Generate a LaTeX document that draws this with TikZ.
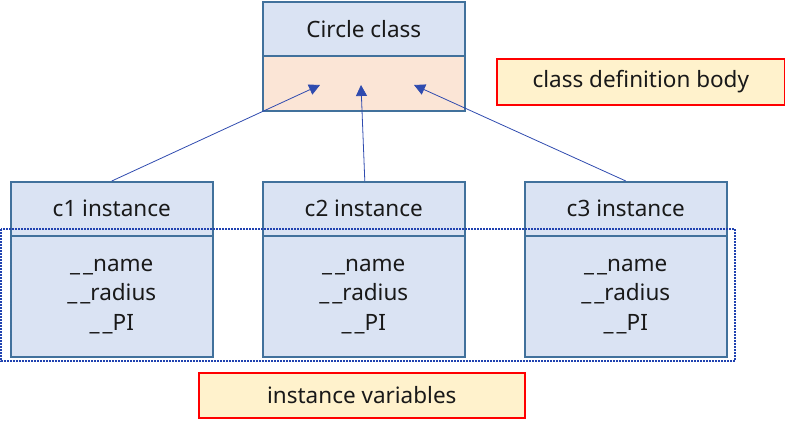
\documentclass[tikz,border=0pt]{standalone}
\usepackage{fontspec}
\setmainfont{Noto Sans}
\usetikzlibrary{arrows.meta}
\definecolor{boxfill}{HTML}{DAE3F3}
\definecolor{boxline}{HTML}{41719C}
\definecolor{peach}{HTML}{FBE5D6}
\definecolor{note}{HTML}{FFF2CC}
\definecolor{arrowc}{HTML}{2F4BAF}
\definecolor{dotc}{HTML}{2042B0}
\newcommand{\uu}{\_\kern3pt\_}
\begin{document}
\begin{tikzpicture}[x=1pt,y=-1pt,
  every node/.style={font=\fontsize{22.5}{29.5}\selectfont, text=black!90},
  hdr/.style={draw=boxline, line width=1.6pt, fill=boxfill, minimum width=202pt, minimum height=54pt, inner sep=0pt, anchor=north west},
  bodybox/.style={draw=boxline, line width=1.6pt, fill=boxfill, minimum width=202pt, minimum height=121pt, inner sep=0pt, anchor=north west, align=center},
  peachbox/.style={draw=boxline, line width=1.6pt, fill=peach, minimum width=202pt, minimum height=55pt, inner sep=0pt, anchor=north west},
  notebox/.style={draw=red, line width=1.6pt, fill=note, inner sep=0pt, anchor=north west},
  link/.style={draw=arrowc, line width=0.8pt, -{Triangle[length=11pt,width=11pt]}}
]
\useasboundingbox (0,0) rectangle (785,425);
% class
\node[hdr] (cls) at (262,1) {Circle class};
\node[peachbox] (body) at (262,55) {};
\coordinate (t1) at (320,85);
\coordinate (t2) at (361,85);
\coordinate (t3) at (414,85);
% instances
\node[hdr] (h1) at (10,181) {c1 instance};
\node[bodybox] (b1) at (10,235) {\uu name\\\uu radius\\\uu PI};
\node[hdr] (h2) at (262,181) {c2 instance};
\node[bodybox] (b2) at (262,235) {\uu name\\\uu radius\\\uu PI};
\node[hdr] (h3) at (524,181) {c3 instance};
\node[bodybox] (b3) at (524,235) {\uu name\\\uu radius\\\uu PI};
% dotted group
\coordinate (g1) at (1,229);
\coordinate (g2) at (735,361);
\draw[dotc, line width=1.6pt, dash pattern=on 1.6pt off 1.4pt] (g1) rectangle (g2);
% arrows
\draw[link] (h1.north) -- (t1);
\draw[link] ([xshift=1pt]h2.north) -- (t2);
\draw[link] (h3.north) -- (t3);
% notes
\node[notebox, minimum width=288pt, minimum height=46pt] (n1) at (496,58) {class definition body};
\node[notebox, minimum width=326pt, minimum height=45pt] (n2) at (198,372) {instance variables};
\end{tikzpicture}
\end{document}
